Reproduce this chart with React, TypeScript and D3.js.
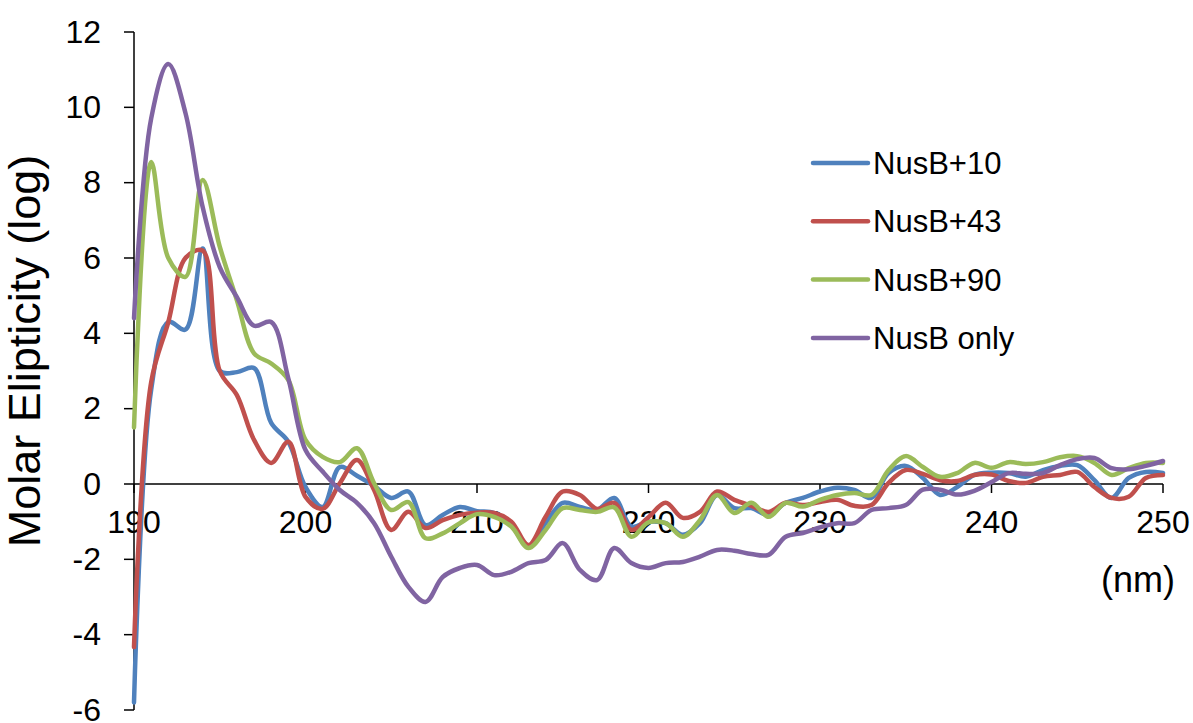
import React from "react";
import * as d3 from "d3";

const wavelengths: number[] = d3.range(190, 251);

const nusb10: number[] = [
  -5.8, 2.5, 4.3, 4.1, 6.25, 3.0, 2.97, 3.08, 1.62, 1.12,
  -0.08, -0.61, 0.45, 0.22, -0.05, -0.37, -0.2, -1.09, -0.82, -0.61,
  -0.72, -0.77, -1.09, -1.67, -1.04, -0.5, -0.61, -0.69, -0.37, -1.13,
  -1.0, -1.04, -1.35, -1.04, -0.29, -0.64, -0.64, -0.82, -0.5, -0.37,
  -0.2, -0.1, -0.16, -0.37, 0.29, 0.48, 0.16, -0.29, -0.08, 0.24,
  0.3, 0.29, 0.19, 0.37, 0.48, 0.5, 0.1, -0.37, 0.16, 0.32,
  0.29,
];

const nusb43: number[] = [
  -4.33, 2.7, 4.3, 6.0, 6.2, 3.0, 2.36, 1.17, 0.56, 1.12,
  -0.34, -0.66, 0.02, 0.64, -0.16, -1.22, -0.74, -1.17, -0.96, -0.82,
  -0.76, -0.77, -1.0, -1.62, -0.87, -0.2, -0.29, -0.66, -0.5, -1.22,
  -0.88, -0.5, -0.9, -0.74, -0.2, -0.42, -0.58, -0.74, -0.5, -0.56,
  -0.48, -0.42, -0.58, -0.56, 0.03, 0.37, 0.27, 0.1, 0.08, 0.24,
  0.25, 0.08, 0.03, 0.19, 0.24, 0.32, -0.08, -0.37, -0.34, 0.16,
  0.24,
];

const nusb90: number[] = [
  1.5, 8.55, 6.0, 5.5, 8.07, 6.3, 4.88, 3.47, 3.2, 2.76,
  1.17, 0.72, 0.58, 0.95, 0.02, -0.69, -0.48, -1.44, -1.31, -1.04,
  -0.8, -0.87, -1.13, -1.7, -1.22, -0.64, -0.69, -0.74, -0.62, -1.4,
  -1.02, -1.04, -1.4, -0.96, -0.29, -0.77, -0.5, -0.87, -0.5, -0.6,
  -0.42, -0.29, -0.24, -0.29, 0.37, 0.74, 0.45, 0.19, 0.29, 0.56,
  0.43, 0.58, 0.53, 0.58, 0.71, 0.74, 0.56, 0.24, 0.42, 0.56,
  0.56,
];

const nusbOnly: number[] = [
  4.4, 9.7, 11.15, 9.85, 7.36, 5.76, 4.96, 4.2, 4.3, 2.8,
  0.9, 0.33, -0.16, -0.5, -1.04, -1.93, -2.73, -3.13, -2.47, -2.23,
  -2.15, -2.42, -2.33, -2.1, -2.02, -1.57, -2.28, -2.55, -1.7, -2.1,
  -2.23, -2.1, -2.07, -1.93, -1.75, -1.77, -1.86, -1.88, -1.4, -1.3,
  -1.15, -1.04, -1.04, -0.69, -0.64, -0.56, -0.15, -0.15, -0.28, -0.18,
  0.05, 0.29, 0.27, 0.29, 0.5, 0.66, 0.69, 0.42, 0.39, 0.48,
  0.61,
];

const seriesNames: string[] = ["NusB+10", "NusB+43", "NusB+90", "NusB only"];
const seriesColors: string[] = ["#4F81BD", "#C0504D", "#9BBB59", "#8064A2"];
const seriesValues: number[][] = [nusb10, nusb43, nusb90, nusbOnly];

const xTicks: number[] = [190, 200, 210, 220, 230, 240, 250];
const yTicks: number[] = [-6, -4, -2, 0, 2, 4, 6, 8, 10, 12];

const FONT = "'Liberation Sans', Arial, sans-serif";

export default function App() {
  const W = 1193;
  const H = 723;
  const x = d3.scaleLinear().domain([190, 250]).range([134, 1163]);
  const y = d3.scaleLinear().domain([-6, 12]).range([710, 32]);

  const line = d3
    .line<number>()
    .x((_, i) => x(wavelengths[i]))
    .y((d) => y(d))
    .curve(d3.curveCatmullRom.alpha(0.5));

  const legendX = 813;
  const legendY0 = 163;
  const legendDy = 58.3;

  return (
    <svg
      width={W}
      height={H}
      style={{ position: "absolute", left: 0, top: 0, background: "#fff" }}
      fontFamily={FONT}
    >
      <rect x={0} y={0} width={W} height={H} fill="#fff" />
      {/* y axis */}
      <line x1={x(190)} x2={x(190)} y1={y(12)} y2={y(-6)} stroke="#000" strokeWidth={1.5} />
      {yTicks.map((t) => (
        <g key={"yt" + t}>
          <line x1={x(190) - 10} x2={x(190)} y1={y(t)} y2={y(t)} stroke="#000" strokeWidth={1.5} />
          <text x={101} y={y(t)} dy="0.33em" textAnchor="end" fontSize={32} fill="#000">
            {t}
          </text>
        </g>
      ))}
      {/* x axis at zero */}
      <line x1={x(190)} x2={x(250)} y1={y(0)} y2={y(0)} stroke="#000" strokeWidth={1.5} />
      {xTicks.map((t) => (
        <g key={"xt" + t}>
          <line x1={x(t)} x2={x(t)} y1={y(0)} y2={y(0) + 9} stroke="#000" strokeWidth={1.5} />
          <text x={x(t)} y={533} textAnchor="middle" fontSize={32} fill="#000">
            {t}
          </text>
        </g>
      ))}
      <text x={1175} y={592} textAnchor="end" fontSize={36} fill="#000">
        (nm)
      </text>
      <text
        transform={`translate(40, 351) rotate(-90)`}
        textAnchor="middle"
        fontSize={45}
        fill="#000"
      >
        Molar Elipticity (log)
      </text>

      {/* series */}
      {seriesValues.map((vals, si) => (
        <path
          key={"s" + si}
          d={line(vals) || ""}
          fill="none"
          stroke={seriesColors[si]}
          strokeWidth={4.5}
          strokeLinejoin="round"
          strokeLinecap="round"
        />
      ))}

      {/* legend */}
      {seriesNames.map((name, i) => (
        <g key={"lg" + i}>
          <line
            x1={legendX}
            x2={legendX + 55}
            y1={legendY0 + i * legendDy}
            y2={legendY0 + i * legendDy}
            stroke={seriesColors[i]}
            strokeWidth={4.5}
            strokeLinecap="round"
          />
          <text x={legendX + 60} y={legendY0 + i * legendDy} dy="0.36em" fontSize={31} fill="#000">
            {name}
          </text>
        </g>
      ))}
    </svg>
  );
}
